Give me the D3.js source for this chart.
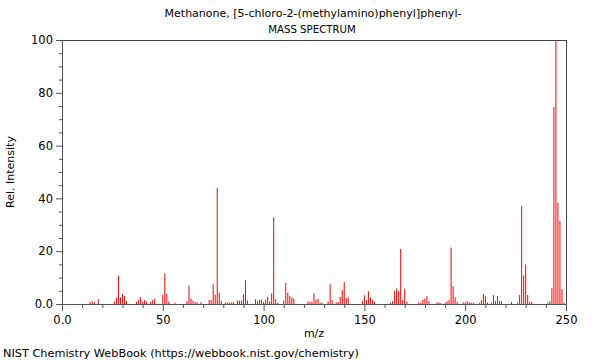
<!DOCTYPE html>
<html>
<head>
<meta charset="utf-8">
<script src="https://cdn.jsdelivr.net/npm/d3@7"></script>
<style>
  html, body { margin: 0; padding: 0; background: #fff; }
  svg { display: block; font-family: "DejaVu Sans", sans-serif; }
</style>
</head>
<body>
<svg id="chart" width="600" height="360"></svg>
<script>
const title = "Methanone, [5-chloro-2-(methylamino)phenyl]phenyl-";
const subtitle = "MASS SPECTRUM";
const xLabel = "m/z";
const yLabel = "Rel. Intensity";
const footer = "NIST Chemistry WebBook (https://webbook.nist.gov/chemistry)";

const mz = [14,15,16,18,26,27,28,29,30,31,32,37,38,39,40,41,42,44,45,46,50,51,52,53,56,
  62,63,64,65,66,67,69,73,74,75,76,77,78,79,81,82,83,84,85,87,88,89,90,91,92,96,97,98,99,100,
  101,102,103,104,105,106,107,110,111,112,113,114,115,122,123,124,125,126,127,128,129,132,133,134,
  136,137,138,139,140,141,142,149,150,151,152,153,154,155,163,164,165,166,167,168,169,170,171,
  177,178,179,180,181,182,186,187,188,190,191,192,193,194,195,196,199,200,201,202,203,204,
  207,208,209,210,211,213,214,215,216,217,218,223,226,227,228,229,230,231,232,233,
  241,242,243,244,245,246,247,248,249];
const intensity = [0.8,1.0,0.7,1.8,1.0,2.4,10.7,2.5,3.8,3.0,1.2,0.8,1.5,2.7,0.7,1.5,1.0,0.8,1.5,2.0,3.4,11.6,3.8,1.0,0.5,
  1.0,7.0,2.0,1.3,0.7,0.7,0.7,1.5,1.5,7.5,3.5,44,4.3,1.2,0.6,0.6,0.6,0.6,0.7,1.3,1.3,1.3,3.6,9.0,1.3,1.8,1.0,1.5,1.7,0.7,
  1.5,2.7,1.0,4.0,32.8,1.8,0.5,1.3,8.0,4.3,3.0,2.4,2.1,1.0,0.8,0.8,4.0,1.5,2.0,0.5,0.5,1.0,7.5,1.5,
  0.7,0.7,2.7,5.3,8.3,2.3,2.5,1.1,3.3,1.5,4.8,2.5,1.5,0.9,0.5,1.1,5.0,5.9,4.9,20.8,1.5,5.8,1.0,
  0.6,0.6,1.5,2.0,3.0,1.1,0.6,0.6,0.4,0.5,1.0,1.5,21.3,6.8,2.5,0.8,0.6,0.6,1.1,0.6,0.6,0.6,
  0.5,1.5,3.8,3.0,0.6,0.5,3.4,1.1,3.0,1.1,1.1,0.8,0.5,3.4,37,10.8,15,3.4,0.8,0.8,
  0.5,1.0,6.0,74.6,100,38.3,31.5,5.6,0.5];

const xTicks = [0, 50, 100, 150, 200, 250];
const xTickLabels = ["0.0", "50", "100", "150", "200", "250"];
const yTicks = [0, 20, 40, 60, 80, 100];
const yTickLabels = ["0.0", "20", "40", "60", "80", "100"];

const peaks = mz.map((m, i) => ({ mz: m, v: intensity[i] }));

const svg = d3.select("#chart");
const L = 62, R = 566, T = 40, B = 304;
const x = d3.scaleLinear().domain([0, 250]).range([L, R]);
const y = d3.scaleLinear().domain([0, 100]).range([B, T]);
const axisColor = "#555";

// peaks
svg.append("g").selectAll("line").data(peaks).join("line")
  .attr("x1", d => x(d.mz)).attr("x2", d => x(d.mz))
  .attr("y1", y(0)).attr("y2", d => y(d.v))
  .attr("stroke", "#ff0000").attr("stroke-width", 1);

// frame top/right
svg.append("line").attr("x1", L).attr("x2", R).attr("y1", T + 0.5).attr("y2", T + 0.5)
  .attr("stroke", "#444").attr("stroke-width", 1);
svg.append("line").attr("x1", R + 0.5).attr("x2", R + 0.5).attr("y1", T).attr("y2", B)
  .attr("stroke", "#444").attr("stroke-width", 1);

// x axis
const gx = svg.append("g").attr("transform", `translate(0,${B})`);
gx.call(d3.axisBottom(x).tickValues(d3.range(0, 251, 10)).tickSize(4).tickFormat(""));
gx.call(g => g.selectAll(".tick").filter(d => d % 50 === 0).select("line").attr("y2", 7));
const gx2 = svg.append("g").attr("transform", `translate(0,${B})`);
gx2.call(d3.axisBottom(x).tickValues(xTicks).tickSize(0).tickPadding(12)
  .tickFormat((d, i) => xTickLabels[i]));
gx2.select(".domain").remove();
gx2.selectAll("text").attr("font-size", 11.5).attr("fill", "#000").attr("font-family", "DejaVu Sans");
gx.selectAll("line, path").attr("stroke", axisColor);

// y axis
const gy = svg.append("g").attr("transform", `translate(${L},0)`);
gy.call(d3.axisLeft(y).tickValues(d3.range(0, 101, 5)).tickSize(3).tickFormat(""));
gy.call(g => g.selectAll(".tick").filter(d => d % 20 === 0).select("line").attr("x2", -6));
const gy2 = svg.append("g").attr("transform", `translate(${L},0)`);
gy2.call(d3.axisLeft(y).tickValues(yTicks).tickSize(0).tickPadding(9)
  .tickFormat((d, i) => yTickLabels[i]));
gy2.select(".domain").remove();
gy2.selectAll("text").attr("font-size", 11.5).attr("fill", "#000").attr("font-family", "DejaVu Sans");
gy.selectAll("line, path").attr("stroke", axisColor);

// titles
svg.append("text").attr("x", 313).attr("y", 17).attr("text-anchor", "middle")
  .attr("font-size", 11).text(title);
svg.append("text").attr("x", 312).attr("y", 33).attr("text-anchor", "middle")
  .attr("font-size", 10.2).text(subtitle);
svg.append("text").attr("x", x(125)).attr("y", 337).attr("text-anchor", "middle")
  .attr("font-size", 11).text(xLabel);
svg.append("text").attr("transform", `translate(14,${(T + B) / 2}) rotate(-90)`)
  .attr("text-anchor", "middle").attr("font-size", 11).text(yLabel);
svg.append("text").attr("x", 3).attr("y", 357).attr("font-size", 11.3).text(footer);
</script>
</body>
</html>
